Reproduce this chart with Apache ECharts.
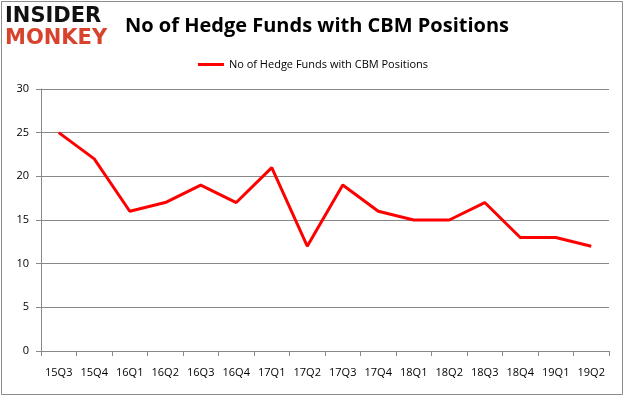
<!DOCTYPE html>
<html><head><meta charset="utf-8">
<script src="https://cdn.jsdelivr.net/npm/echarts@6/dist/echarts.min.js"></script>
<style>html,body{margin:0;padding:0;background:#fff}#c{width:626px;height:397px}</style>
</head><body><div id="c"></div>
<script>
const categories = ["15Q3","15Q4","16Q1","16Q2","16Q3","16Q4","17Q1","17Q2","17Q3","17Q4","18Q1","18Q2","18Q3","18Q4","19Q1","19Q2"];
const hedgeFunds = [25,22,16,17,19,17,21,12,19,16,15,15,17,13,13,12];
const seriesName = "No of Hedge Funds with CBM Positions";
const titleText = "No of Hedge Funds with CBM Positions";

const chart = echarts.init(document.getElementById('c'));
chart.setOption({
  animation: false,
  backgroundColor: '#fff',
  title: {
    text: titleText, left: 312, top: 11, textAlign: 'center',
    textStyle: {fontFamily: 'Open Sans', fontWeight: 'bold', fontSize: 20, color: '#000'}
  },
  legend: {
    data: [seriesName], top: 54, left: 'center', itemWidth: 26, itemHeight: 3, icon: 'rect',
    textStyle: {fontFamily: 'Open Sans', fontSize: 11, color: '#000'}
  },
  graphic: [
    {type: 'rect', shape: {x: 1.5, y: 1.5, width: 621, height: 393}, style: {fill: 'none', stroke: '#8c8c8c', lineWidth: 1}, silent: true},
    {type: 'text', left: 5, top: 6, style: {text: 'INSIDER', fontFamily: 'DejaVu Sans', fontWeight: 'bold', fontSize: 21, fill: '#111'}},
    {type: 'text', left: 5, top: 28, style: {text: 'MONKEY', fontFamily: 'DejaVu Sans', fontWeight: 'bold', fontSize: 21, fill: '#d8432e'}}
  ],
  grid: {left: 41, right: 17, top: 89, bottom: 46},
  xAxis: {
    type: 'category', data: categories, boundaryGap: true,
    axisLine: {lineStyle: {color: '#888', width: 1}},
    axisTick: {show: true, length: 5, interval: 0, lineStyle: {color: '#888'}},
    axisLabel: {interval: 0, margin: 16, fontFamily: 'Open Sans', fontSize: 11, color: '#000'}
  },
  yAxis: {
    type: 'value', min: 0, max: 30, interval: 5,
    axisLine: {show: true, lineStyle: {color: '#888'}},
    axisTick: {show: true, length: 5, lineStyle: {color: '#888'}},
    splitLine: {lineStyle: {color: '#888', width: 1}},
    axisLabel: {margin: 12, fontFamily: 'Open Sans', fontSize: 11, color: '#000'}
  },
  series: [{
    name: seriesName, type: 'line', data: hedgeFunds, showSymbol: false, symbol: 'none',
    lineStyle: {color: '#ff0000', width: 3}, itemStyle: {color: '#ff0000'}
  }]
});
</script></body></html>
